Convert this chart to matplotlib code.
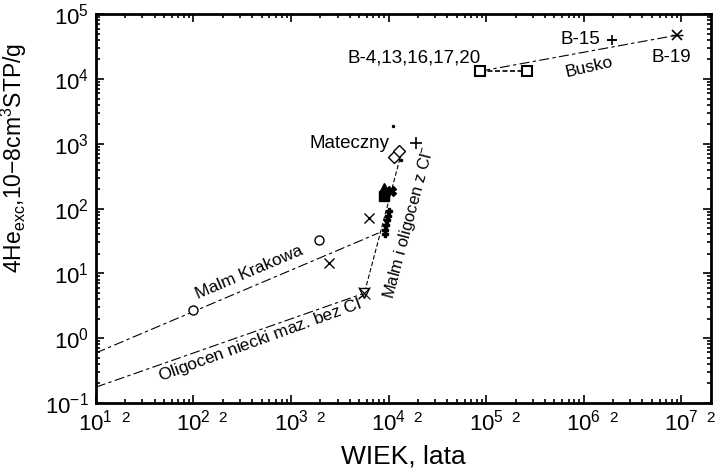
import numpy as np
import matplotlib
matplotlib.use('Agg')
import matplotlib.pyplot as plt
from matplotlib.ticker import FixedLocator, FixedFormatter, NullFormatter

plt.rcParams['font.family'] = ['Liberation Sans', 'DejaVu Sans']
plt.rcParams['mathtext.fontset'] = 'custom'
plt.rcParams['mathtext.rm'] = 'Liberation Sans'
plt.rcParams['mathtext.it'] = 'Liberation Sans:italic'

# --- data ---
malm_circ_x = [100, 1950]
malm_circ_y = [2.7, 32.6]
malm_cross_x = [2450, 6250]
malm_cross_y = [14.4, 71]
malm_line_x = [10, 7900]
malm_line_y = [0.59, 42]

olig_line_x = [10, 5560]
olig_line_y = [0.175, 4.9]
olig_tri_x = [5560]
olig_tri_y = [4.9]

cl_line_x = [5700, 13600]
cl_line_y = [5.2, 741]
cl_filled_tri = ([8900], [207])
cl_filled_sq = ([8900], [155])
cl_filled_star = ([10500], [190])
cl_cluster_x = [10200, 9900, 9700, 9500, 9300, 9150]
cl_cluster_y = [92, 78, 66, 56, 47, 40]

mat_x = [11300, 12900]
mat_y = [621, 769]
mat_plus_x = [19300]
mat_plus_y = [1020]
dots_x = [13300, 11000]
dots_y = [560, 1900]

busko_sq_x = [87000, 2.6e5]
busko_sq_y = [13200, 13200]
busko_line_x = [87000, 9.1e6]
busko_line_y = [13200, 47600]
b15 = ([1.95e6], [39800])
b19 = ([9.1e6], [47600])

xmajor = [1e1, 1e2, 1e3, 1e4, 1e5, 1e6, 1e7]
xmajor_labels = ['$10^{1}$', '$10^{2}$', '$10^{3}$', '$10^{4}$', '$10^{5}$', '$10^{6}$', '$10^{7}$']
ymajor = [1e-1, 1e0, 1e1, 1e2, 1e3, 1e4, 1e5]
ymajor_labels = ['$10^{-1}$', '$10^{0}$', '$10^{1}$', '$10^{2}$', '$10^{3}$', '$10^{4}$', '$10^{5}$']

fig = plt.figure(figsize=(7.15, 4.74), dpi=100)
ax = fig.add_axes([0.134, 0.150, 0.860, 0.820])
ax.set_xscale('log')
ax.set_yscale('log')

lw = 0.8
ax.plot(malm_line_x, malm_line_y, color='k', lw=lw, linestyle=(0, (9, 3, 3, 3)))
ax.plot(olig_line_x, olig_line_y, color='k', lw=lw, linestyle=(0, (9, 3, 3, 3)))
ax.plot(cl_line_x, cl_line_y, color='k', lw=lw, linestyle=(0, (4, 2)))
ax.plot(busko_line_x, busko_line_y, color='k', lw=lw, linestyle=(0, (9, 3, 3, 3)))
ax.plot(busko_sq_x, busko_sq_y, color='k', lw=1.2, linestyle=(0, (3, 1.5)))

ms = 6.5
ax.plot(malm_circ_x, malm_circ_y, 'o', ms=ms, mfc='white', mec='k', mew=1)
ax.plot(malm_cross_x, malm_cross_y, 'x', ms=ms + 1, color='k', mew=1)
ax.plot(olig_tri_x, olig_tri_y, 'v', ms=ms + 1, mfc='white', mec='k', mew=1)
ax.plot(olig_tri_x, olig_tri_y, 'x', ms=ms + 2, color='k', mew=0.8)
ax.plot(*cl_filled_tri, '^', ms=ms + 1, color='k')
ax.plot(*cl_filled_sq, 's', ms=ms, color='k')
ax.plot(*cl_filled_star, 'X', ms=ms, color='k')
ax.plot(cl_cluster_x, cl_cluster_y, 'P', ms=5, color='k')
ax.plot(mat_x, mat_y, 'D', ms=ms, mfc='white', mec='k', mew=1)
ax.plot(mat_plus_x, mat_plus_y, '+', ms=ms + 2, color='k', mew=1.2)
ax.plot(dots_x, dots_y, '.', ms=3, color='k')
ax.plot(busko_sq_x, busko_sq_y, 's', ms=ms, mfc='white', mec='k', mew=1.5)
ax.plot(*b15, '+', ms=ms + 1, color='k', mew=1.2)
ax.plot(*b15, '_', ms=ms + 1, color='k', mew=1.2)
ax.plot(*b19, 'x', ms=ms, color='k', mew=1.2)
ax.plot(*b19, '_', ms=ms + 2, color='k', mew=1.0)

# labels
fs = 13.5
ax.text(8.7e4, 2.13e4, 'B-4,13,16,17,20', fontsize=fs, ha='right', va='center')
ax.text(1.46e6, 4.1e4, 'B-15', fontsize=fs, ha='right', va='center')
ax.text(7.9e6, 2.15e4, 'B-19', fontsize=fs, ha='center', va='center')
ax.text(1.15e6, 1.52e4, 'Busko', fontsize=12.5, ha='center', va='center', rotation=13)
ax.text(1.03e4, 1.02e3, 'Mateczny', fontsize=fs, ha='right', va='center')
ax.text(370, 10.5, 'Malm Krakowa', fontsize=12.5, ha='center', va='center', rotation=23)
ax.text(520, 0.96, 'Oligocen niecki maz. bez Cl$^{-}$', fontsize=12.5, ha='center',
        va='center', rotation=20)
ax.text(1.63e4, 60, 'Malm i oligocen z Cl$^{-}$', fontsize=12, ha='center',
        va='center', rotation=75)

ax.set_xlim(10, 2e7)
ax.set_ylim(0.1, 1e5)

ax.xaxis.set_major_locator(FixedLocator(xmajor))
ax.xaxis.set_major_formatter(FixedFormatter(xmajor_labels))
xminor = [m * 10.0 ** e for e in range(1, 8) for m in range(2, 10) if m * 10.0 ** e <= 2e7]
ax.xaxis.set_minor_locator(FixedLocator(xminor))
ax.xaxis.set_minor_formatter(FixedFormatter(['2' if str(v).startswith('2') else '' for v in xminor]))
ax.yaxis.set_major_locator(FixedLocator(ymajor))
ax.yaxis.set_major_formatter(FixedFormatter(ymajor_labels))
yminor = [m * 10.0 ** e for e in range(-1, 5) for m in range(2, 10)]
ax.yaxis.set_minor_locator(FixedLocator(yminor))
ax.yaxis.set_minor_formatter(NullFormatter())

ax.tick_params(which='both', direction='in', top=True, right=True, width=1.2)
ax.tick_params(which='major', length=6, labelsize=16, pad=5)
ax.tick_params(which='minor', length=3)
ax.tick_params(axis='x', which='minor', labelsize=11, pad=6)
for s in ax.spines.values():
    s.set_linewidth(2)

ax.set_xlabel('WIEK, lata', fontsize=19, labelpad=6)
ax.set_ylabel('4He$_{\\rm exc}$,10\u22128cm$^{3}$STP/g', fontsize=16.5,
              family=['Liberation Sans Narrow', 'Liberation Sans', 'DejaVu Sans'])
ax.yaxis.set_label_coords(-0.108, 0.63)

fig.savefig('out.png', dpi=100)
